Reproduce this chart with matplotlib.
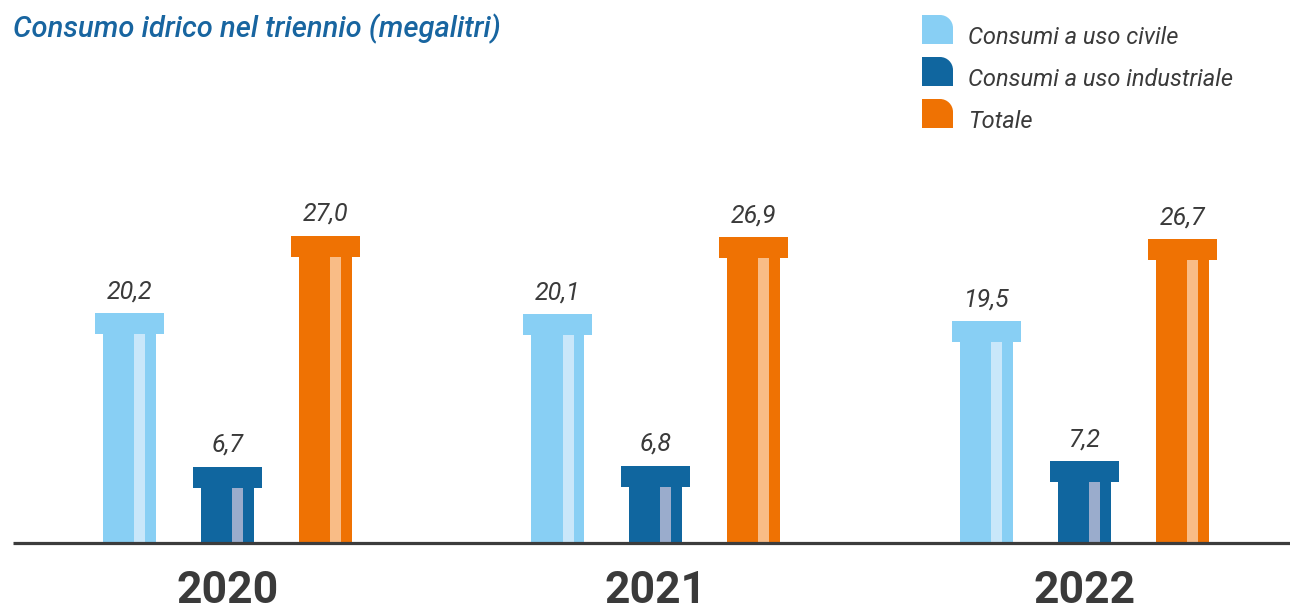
import matplotlib
matplotlib.use("Agg")
import matplotlib.pyplot as plt
from matplotlib.patches import Rectangle, PathPatch
from matplotlib.path import Path
import numpy as np

# --- data -------------------------------------------------------------
years = ["2020", "2021", "2022"]
series_names = ["Consumi a uso civile", "Consumi a uso industriale", "Totale"]
civile = [20.2, 20.1, 19.5]
industriale = [6.7, 6.8, 7.2]
totale = [27.0, 26.9, 26.7]
value_labels = [["20,2", "20,1", "19,5"],
                ["6,7", "6,8", "7,2"],
                ["27,0", "26,9", "26,7"]]

# --- style ------------------------------------------------------------
main_colors = ["#88cff4", "#10669f", "#ef7203"]
stripe_colors = ["#c9e7fa", "#9aaccc", "#f9bc86"]
text_gray = "#3a3a3a"
title_blue = "#1865a0"

W, H = 1290, 610
fig = plt.figure(figsize=(W / 100, H / 100), dpi=100)
ax = fig.add_axes([0, 0, 1, 1])
ax.set_axis_off()

# pixel-based scales: one group step = 428.5 px, one unit = 11.37 px
px_x = 428.5
px_y = 11.37
x0_px, base_px = 227.5, 543.0
ax.set_xlim(-x0_px / px_x, (W - x0_px) / px_x)
ax.set_ylim(-(H - base_px) / px_y, base_px / px_y)

offset = 98 / px_x
cap_w = 69 / px_x
stem_w = 53 / px_x
stripe_w = 11 / px_x
stripe_dx = 10 / px_x
cap_h = 21 / px_y

x = np.arange(len(years))
all_series = [civile, industriale, totale]

for i, values in enumerate(all_series):
    for g, v in enumerate(values):
        cx = x[g] + (i - 1) * offset
        # stem
        ax.add_patch(Rectangle((cx - stem_w / 2, 0), stem_w, v - cap_h,
                               facecolor=main_colors[i], edgecolor="none", zorder=2))
        # light stripe in the stem
        ax.add_patch(Rectangle((cx + stripe_dx - stripe_w / 2, 0), stripe_w, v - cap_h,
                               facecolor=stripe_colors[i], edgecolor="none", zorder=3))
        # capital on top
        ax.add_patch(Rectangle((cx - cap_w / 2, v - cap_h), cap_w, cap_h,
                               facecolor=main_colors[i], edgecolor="none", zorder=3))
        ax.text(cx, v + 1.32, value_labels[i][g], ha="center", va="baseline",
                fontsize=18, style="italic", color=text_gray, family="Roboto")

# baseline
ax.plot([ax.get_xlim()[0] + 13 / px_x, ax.get_xlim()[1]], [-0.04, -0.04],
        color="#3c3c3c", lw=2.3, solid_capstyle="butt", zorder=5)

# year labels
for g, yr in enumerate(years):
    ax.text(x[g], -60 / px_y, yr, ha="center", va="baseline", fontsize=32,
            fontweight="bold", color=text_gray, family="Roboto")

# title
fig.text(13 / W, 1 - 37 / H, "Consumo idrico nel triennio (megalitri)",
         ha="left", va="baseline", fontsize=21, style="italic", fontweight="medium",
         color=title_blue, family="Roboto")


# legend: squares with a rounded top-right corner
def rounded_square(left, top, w, h, r):
    l, r_ = left / W, (left + w) / W
    t, b = 1 - top / H, 1 - (top + h) / H
    rx, ry = r / W, r / H
    k = 0.5523
    verts = [(l, b), (r_, b), (r_, t - ry),
             (r_, t - ry + k * ry), (r_ - rx + k * rx, t), (r_ - rx, t),
             (l, t), (l, b)]
    codes = [Path.MOVETO, Path.LINETO, Path.LINETO,
             Path.CURVE4, Path.CURVE4, Path.CURVE4,
             Path.LINETO, Path.CLOSEPOLY]
    return Path(verts, codes)


for i, name in enumerate(series_names):
    top = 15 + i * 42
    patch = PathPatch(rounded_square(922, top, 31, 29, 13),
                      facecolor=main_colors[i], edgecolor="none",
                      transform=fig.transFigure)
    fig.patches.append(patch)
    fig.text(968 / W, 1 - (top + 29) / H, name, ha="left", va="baseline",
             fontsize=17, style="italic", color=text_gray, family="Roboto")

fig.savefig("out.png", dpi=100)
